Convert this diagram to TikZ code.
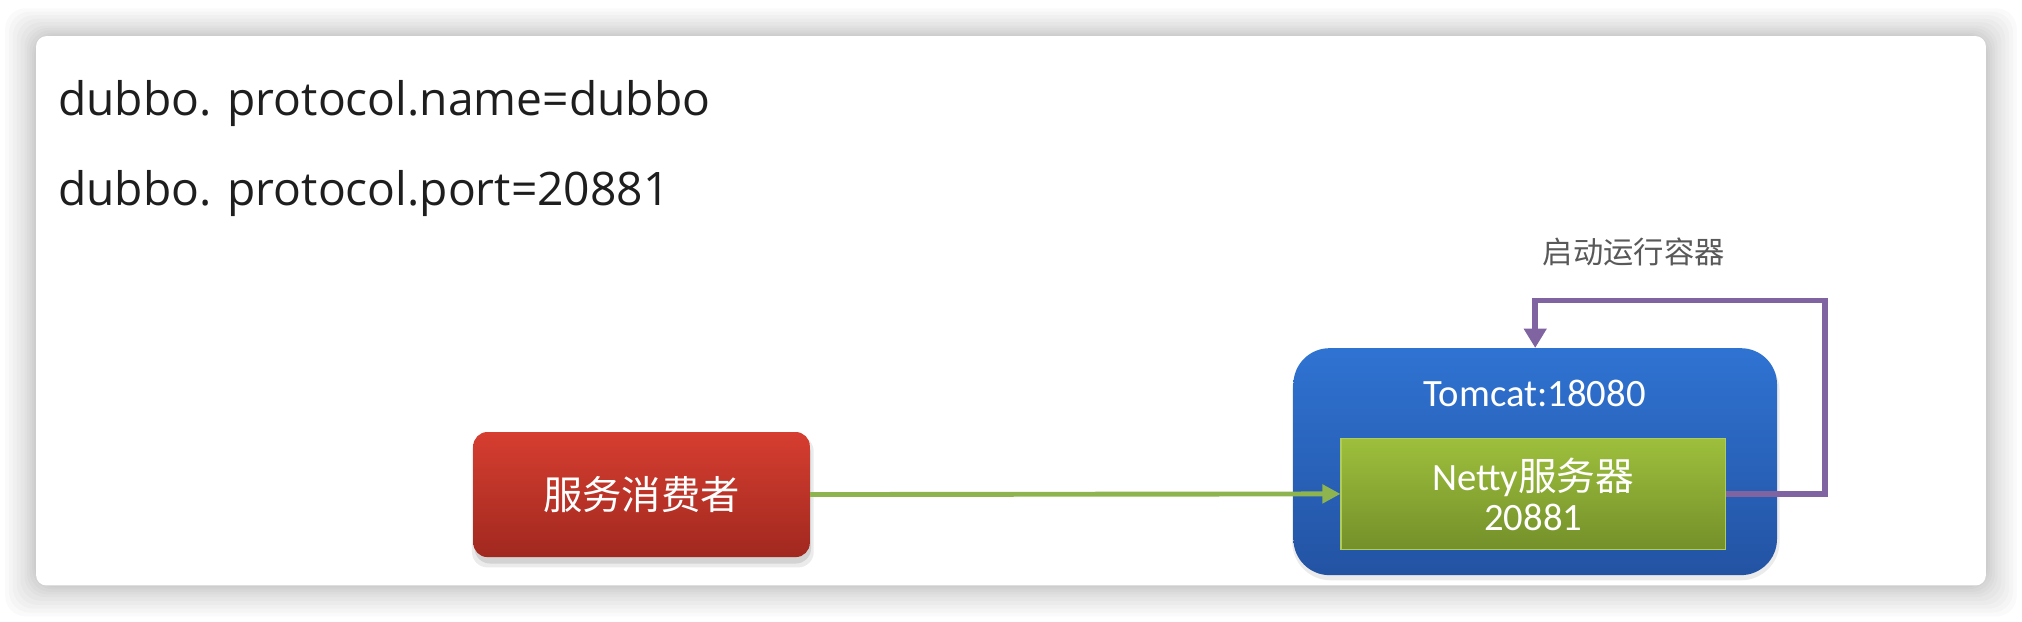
\documentclass[tikz,border=0pt]{standalone}
\usepackage{fontspec}
\setmainfont{Open Sans}
\newfontfamily\cjkfont{Noto Sans CJK SC}
\newfontfamily\calfont{Carlito}
\usetikzlibrary{arrows.meta}
\definecolor{redtop}{HTML}{D63E30}
\definecolor{redbot}{HTML}{A1281F}
\definecolor{bluetop}{HTML}{2F73D2}
\definecolor{bluebot}{HTML}{2353A3}
\definecolor{greentop}{HTML}{9DBF3C}
\definecolor{greenbot}{HTML}{74902A}
\definecolor{greenedge}{HTML}{AECB5C}
\definecolor{arrowgreen}{HTML}{8DB44E}
\definecolor{loopviolet}{HTML}{8064A2}
\definecolor{labelgray}{HTML}{595959}
\definecolor{codetext}{HTML}{1E1E1E}
\tikzset{
  codeline/.style={anchor=west, inner sep=0pt, text=codetext, font=\fontsize{35.8}{42}\selectfont},
  redbox/.style={rounded corners=11pt, top color=redtop, bottom color=redbot, minimum width=261pt, minimum height=97pt, inner sep=0pt, text=white, font=\cjkfont\fontsize{30.5}{36}\selectfont},
  bluebox/.style={rounded corners=28pt, top color=bluetop, bottom color=bluebot, minimum width=375pt, minimum height=176pt, inner sep=0pt},
  greenbox/.style={top color=greentop, bottom color=greenbot, draw=greenedge, line width=1pt, minimum width=298pt, minimum height=86pt, inner sep=0pt, text=white, align=center, font=\fontsize{30}{34}\selectfont},
  whitelabel/.style={text=white, inner sep=0pt, font=\calfont\fontsize{30}{36}\selectfont},
  grayLabel/.style={text=labelgray, inner sep=0pt, font=\cjkfont\fontsize{23.5}{28}\selectfont},
  flowarrow/.style={draw=arrowgreen, line width=3.8pt, -{Triangle[length=14pt,width=14pt]}},
  looparrow/.style={draw=loopviolet, line width=4.5pt, -{Triangle[length=15pt,width=17pt]}},
}
\begin{document}
\begin{tikzpicture}[x=1pt,y=-1pt]
\useasboundingbox (0,0) rectangle (1568,482);
\fill[white] (0,0) rectangle (1568,482);
% card shadow
\foreach \d in {24,21,18,15,12,9,7,5,3,1.5}{
  \fill[black,opacity=0.018,rounded corners=16pt] (28-\d,28-\d*0.9) rectangle (1540+\d,454+\d*1.0);
}
\fill[white,rounded corners=8pt] (28,28) rectangle (1540,454);
% code lines
\node[codeline] (l1) at (45,80) {dubbo. protocol.name=dubbo};
\node[codeline] (l2) at (45,150) {dubbo. protocol.port=20881};
% consumer with shadow
\fill[black,opacity=0.10,rounded corners=12pt] (368,340) rectangle (629,437);
\fill[black,opacity=0.08,rounded corners=12pt] (366,338) rectangle (631,440);
\node[redbox] (consumer) at (497.5,383.5) {服务消费者};
% tomcat
\fill[black,opacity=0.08,rounded corners=30pt] (1002,273) rectangle (1380,450);
\node[bluebox] (tomcat) at (1190.5,358) {};
\node[whitelabel] (tomcatlabel) at (1190,305) {Tomcat:18080};
\node[greenbox] (netty) at (1189,383) {{\calfont Netty}{\cjkfont 服务器}\\[-3pt]{\calfont 20881}};
% label
\node[grayLabel] (looplabel) at (1267,195) {启动运行容器};
\coordinate (corner) at (1415,233);
% connectors
\draw[flowarrow] (consumer.east) -- (netty.west);
\draw[looparrow, line join=miter] (netty.east) -| (corner) -| (tomcat.north);
\end{tikzpicture}
\end{document}
